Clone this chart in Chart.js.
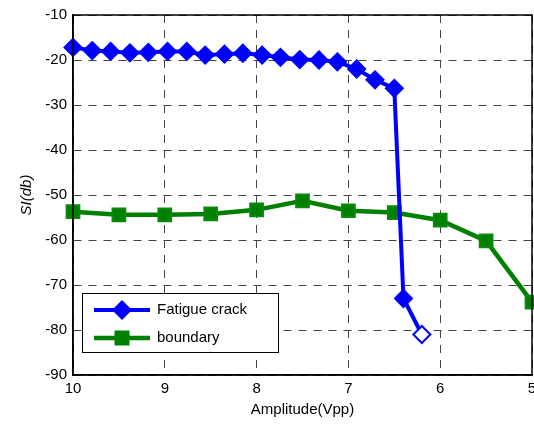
<!DOCTYPE html>
<html>
<head>
<meta charset="utf-8">
<script src="https://cdn.jsdelivr.net/npm/chart.js@4/dist/chart.umd.min.js"></script>
<style>
html,body{margin:0;padding:0;background:#fff;}
#wrap{width:534px;height:427px;position:relative;}
</style>
</head>
<body>
<div id="wrap"><canvas id="c" width="534" height="427"></canvas></div>
<script>
// Data
const crackAmplitude = [10, 9.79, 9.59, 9.38, 9.18, 8.97, 8.76, 8.56, 8.35, 8.15, 7.94, 7.74, 7.53, 7.32, 7.12, 6.91, 6.71, 6.5, 6.4, 6.2];
const crackSI = [-17.2, -17.9, -18.1, -18.4, -18.3, -18.1, -18.1, -18.9, -18.7, -18.5, -18.9, -19.4, -19.9, -20.0, -20.4, -22.0, -24.4, -26.3, -73.0, -81.0];
const boundaryAmplitude = [10, 9.5, 9, 8.5, 8, 7.5, 7, 6.5, 6, 5.5, 5];
const boundarySI = [-53.7, -54.4, -54.4, -54.2, -53.3, -51.3, -53.5, -53.9, -55.6, -60.2, -73.8];
const xTicks = [10, 9, 8, 7, 6, 5];
const yTicks = [-90, -80, -70, -60, -50, -40, -30, -20, -10];
const seriesNames = ['Fatigue crack', 'boundary'];

const FONT = 'Liberation Sans, Arial, sans-serif';

function pts(xs, ys){ return xs.map((x,i)=>({x:x, y:ys[i]})); }

const crackBg = crackSI.map((v,i)=> i === crackSI.length-1 ? '#ffffff' : '#0000ff');

const legendPlugin = {
  id: 'boxLegend',
  afterDatasetsDraw(chart){
    const ctx = chart.ctx, a = chart.chartArea;
    const x0 = a.left + 9, y0 = a.bottom - 82, w = 196, h = 59;
    ctx.save();
    ctx.fillStyle = '#fff';
    ctx.fillRect(x0, y0, w, h);
    ctx.strokeStyle = '#000';
    ctx.lineWidth = 1;
    ctx.strokeRect(x0+0.5, y0+0.5, w, h);
    chart.data.datasets.forEach((ds, i) => {
      const cy = y0 + 17 + i*28;
      ctx.strokeStyle = ds.borderColor;
      ctx.lineWidth = ds.borderWidth;
      ctx.beginPath(); ctx.moveTo(x0+12, cy); ctx.lineTo(x0+68, cy); ctx.stroke();
      ctx.fillStyle = ds.borderColor;
      ctx.beginPath();
      const cx = x0 + 40;
      if (ds.pointStyle === 'rectRot') {
        const r = 10;
        ctx.moveTo(cx-r, cy); ctx.lineTo(cx, cy-r); ctx.lineTo(cx+r, cy); ctx.lineTo(cx, cy+r); ctx.closePath();
      } else {
        ctx.rect(cx-7.5, cy-7.5, 15, 15);
      }
      ctx.fill();
      ctx.fillStyle = '#000';
      ctx.font = '15px ' + FONT;
      ctx.textBaseline = 'middle';
      ctx.textAlign = 'left';
      ctx.fillText(ds.label, x0 + 75, cy);
    });
    ctx.restore();
  }
};

const borderPlugin = {
  id: 'boxBorder',
  afterDatasetsDraw(chart){
    const ctx = chart.ctx, a = chart.chartArea;
    ctx.save();
    ctx.strokeStyle = '#000';
    ctx.lineWidth = 1.5;
    ctx.strokeRect(a.left, a.top, a.right-a.left, a.bottom-a.top);
    ctx.restore();
  }
};

new Chart(document.getElementById('c'), {
  type: 'line',
  data: {
    datasets: [
      {
        label: seriesNames[0],
        data: pts(crackAmplitude, crackSI),
        borderColor: '#0000ff',
        backgroundColor: '#0000ff',
        borderWidth: 4,
        pointStyle: 'rectRot',
        pointRadius: 8.5,
        pointBorderWidth: 2,
        pointBackgroundColor: crackBg,
        pointBorderColor: '#0000ff',
        tension: 0,
        fill: false,
        clip: false
      },
      {
        label: seriesNames[1],
        data: pts(boundaryAmplitude, boundarySI),
        borderColor: '#008000',
        backgroundColor: '#008000',
        borderWidth: 4.5,
        pointStyle: 'rect',
        pointRadius: 9,
        pointBorderWidth: 2,
        pointBackgroundColor: '#008000',
        pointBorderColor: '#0a8a0a',
        tension: 0,
        fill: false,
        clip: false
      }
    ]
  },
  options: {
    responsive: false,
    animation: false,
    devicePixelRatio: 1,
    layout: { autoPadding: false, padding: { top: 15, right: 2, left: 0, bottom: 0 } },
    plugins: { legend: { display: false }, tooltip: { enabled: false } },
    scales: {
      x: {
        type: 'linear',
        reverse: true,
        min: 5, max: 10,
        afterFit(s){ s.height = 52; s.paddingRight = 0; s.paddingLeft = 0; },
        afterBuildTicks(s){ s.ticks = xTicks.map(v=>({value:v})); },
        grid: { color: '#444', lineWidth: 1, drawTicks: false },
        border: { display: true, color: '#000', width: 1.5, dash: [8,7] },
        ticks: { color: '#000', font: { family: FONT, size: 15 }, padding: 5, maxRotation: 0, autoSkip: false },
        title: { display: true, text: 'Amplitude(Vpp)', color: '#000', font: { family: FONT, size: 15 }, padding: { top: 0, bottom: 8 } }
      },
      y: {
        type: 'linear',
        min: -90, max: -10,
        afterFit(s){ s.width = 73; s.paddingTop = 0; s.paddingBottom = 0; },
        afterBuildTicks(s){ s.ticks = yTicks.map(v=>({value:v})); },
        grid: { color: '#444', lineWidth: 1, drawTicks: false },
        border: { display: true, color: '#000', width: 1.5, dash: [8,7] },
        ticks: { color: '#000', font: { family: FONT, size: 15 }, padding: 6, autoSkip: false },
        title: { display: true, text: 'SI(db)', color: '#000', font: { family: FONT, size: 15, style: 'italic' }, padding: { top: 18, bottom: 0 } }
      }
    }
  },
  plugins: [borderPlugin, legendPlugin]
});
</script>
</body>
</html>
